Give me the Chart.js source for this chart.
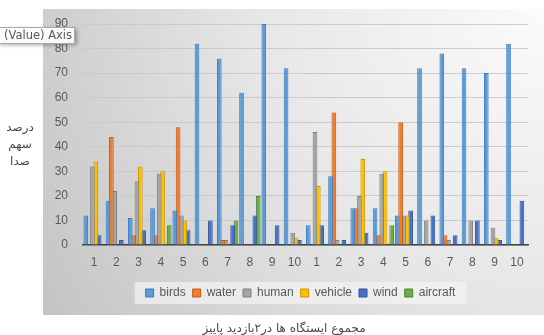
<!DOCTYPE html>
<html>
<head>
<meta charset="utf-8">
<script src="https://cdn.jsdelivr.net/npm/chart.js@4/dist/chart.umd.min.js"></script>
<style>
  html, body { margin: 0; padding: 0; background: #ffffff; }
  #wrap { width: 544px; height: 335px; position: relative; }
</style>
</head>
<body>
<div id="wrap"><canvas id="c" width="544" height="335"></canvas></div>
<script>
// Station numbers, two autumn visits of ten stations each
const categories = ['1','2','3','4','5','6','7','8','9','10','1','2','3','4','5','6','7','8','9','10'];

// Share of each sound source (%)
const birds    = [12, 18, 11, 15, 14, 82, 76, 62, 90, 72,  8, 28, 15, 15, 12, 72, 78, 72, 70, 82];
const water    = [ 0, 44,  4,  4, 48,  0,  2,  0,  0,  0,  0, 54, 15,  4, 50,  0,  4,  0,  0,  0];
const human    = [32, 22, 26, 29, 12,  0,  2,  0,  0,  5, 46,  2, 20, 29, 12, 10,  2, 10,  7,  0];
const vehicle  = [34,  0, 32, 30, 10,  0,  0,  0,  0,  3, 24,  0, 35, 30, 12,  0,  0,  0,  3,  0];
const wind     = [ 4,  2,  6,  0,  6, 10,  8, 12,  8,  2,  8,  2,  5,  0, 14, 12,  4, 10,  2, 18];
const aircraft = [ 0,  0,  0,  8,  0,  0, 10, 20,  0,  0,  0,  0,  0,  8,  0,  0,  0,  0,  0,  0];

const yTicksMax = 90;
const yTicksStep = 10;

const yTitleLines = ['درصد', 'سهم', 'صدا'];
const xTitle = 'مجموع ایستگاه ها در۲بازدید پاییز';
const hoverNote = 'Vertical (Value) Axis';

const series = [
  { label: 'birds',    data: birds,    fill: '#5B9BD5', edge: '#3a7cc0' },
  { label: 'water',    data: water,    fill: '#ED7D31', edge: '#c55a11' },
  { label: 'human',    data: human,    fill: '#A5A5A5', edge: '#808080' },
  { label: 'vehicle',  data: vehicle,  fill: '#FFC000', edge: '#c99700' },
  { label: 'wind',     data: wind,     fill: '#4472C4', edge: '#2f5597' },
  { label: 'aircraft', data: aircraft, fill: '#70AD47', edge: '#4f8132' }
];

// horizontal nudge of the legend row towards the plot centre
const LEGEND_SHIFT = 15;

const decor = {
  id: 'decor',
  afterLayout(chart) {
    const lg = chart.legend;
    if (lg) { lg.left += LEGEND_SHIFT; lg.right += LEGEND_SHIFT; }
  },
  beforeDraw(chart) {
    const ctx = chart.ctx;
    ctx.save();
    // shaded chart panel
    const g = ctx.createRadialGradient(544, 9, 0, 544, 9, 590);
    g.addColorStop(0, '#fbfbfb');
    g.addColorStop(0.5, '#e6e6e6');
    g.addColorStop(1, '#c3c3c3');
    ctx.fillStyle = g;
    ctx.fillRect(43, 9, 501, 306);
    // legend backdrop
    const lg = chart.legend;
    if (lg && lg.legendHitBoxes && lg.legendHitBoxes.length) {
      const hb = lg.legendHitBoxes;
      const l = Math.min(...hb.map(b => b.left)) - 11;
      const r = Math.max(...hb.map(b => b.left + b.width)) + 11;
      const t = hb[0].top - 5;
      const h = hb[0].height + 10;
      ctx.fillStyle = 'rgba(244,244,244,0.7)';
      ctx.fillRect(l, t, r - l, h);
    }
    ctx.restore();
  },
  afterDraw(chart) {
    const ctx = chart.ctx;
    ctx.save();
    // axis titles
    ctx.direction = 'rtl';
    ctx.font = '12px "DejaVu Sans"';
    ctx.fillStyle = '#4a4a4a';
    ctx.textAlign = 'center';
    ctx.textBaseline = 'middle';
    yTitleLines.forEach((s, i) => ctx.fillText(s, 20, 128 + i * 17));
    ctx.fillText(xTitle, 284, 329);
    // hover note on the value axis
    ctx.direction = 'ltr';
    ctx.shadowColor = 'rgba(0,0,0,0.35)';
    ctx.shadowBlur = 4;
    ctx.shadowOffsetX = 2;
    ctx.shadowOffsetY = 2;
    ctx.fillStyle = 'rgba(255,255,255,0.95)';
    ctx.fillRect(-2, 27, 77, 16);
    ctx.shadowColor = 'transparent';
    ctx.strokeStyle = '#a8a8a8';
    ctx.lineWidth = 1;
    ctx.strokeRect(-2.5, 27.5, 77, 16);
    ctx.font = '11.5px "DejaVu Sans"';
    ctx.fillStyle = '#595959';
    ctx.textAlign = 'right';
    ctx.fillText(hoverNote, 72, 36);
    ctx.restore();
  }
};

new Chart(document.getElementById('c'), {
  type: 'bar',
  data: {
    labels: categories,
    datasets: series.map(s => ({
      label: s.label,
      data: s.data,
      backgroundColor: s.fill,
      borderColor: s.edge,
      borderWidth: 1,
      categoryPercentage: 0.9,
      barPercentage: 1.4
    }))
  },
  options: {
    responsive: false,
    animation: false,
    events: [],
    layout: { padding: { left: 43, right: 16, top: 24, bottom: 26 } },
    plugins: {
      tooltip: { enabled: false },
      legend: {
        position: 'bottom',
        labels: {
          boxWidth: 8,
          boxHeight: 8,
          padding: 7,
          color: '#595959',
          font: { family: 'Liberation Sans', size: 12 }
        }
      }
    },
    scales: {
      x: {
        grid: { display: false, drawTicks: false },
        border: { display: true, color: '#404040', width: 1.5 },
        ticks: { color: '#595959', padding: 10, font: { family: 'Liberation Sans', size: 12 }, maxRotation: 0, autoSkip: false },
        afterFit(s) { s.height = 35; }
      },
      y: {
        min: 0,
        max: yTicksMax,
        ticks: { stepSize: yTicksStep, color: '#595959', padding: 15, font: { family: 'Liberation Sans', size: 12 } },
        grid: { color: 'rgba(200,200,200,0.9)', lineWidth: 1, drawTicks: false },
        border: { display: false },
        afterFit(s) { s.width = 40; }
      }
    }
  },
  plugins: [decor]
});
</script>
</body>
</html>
